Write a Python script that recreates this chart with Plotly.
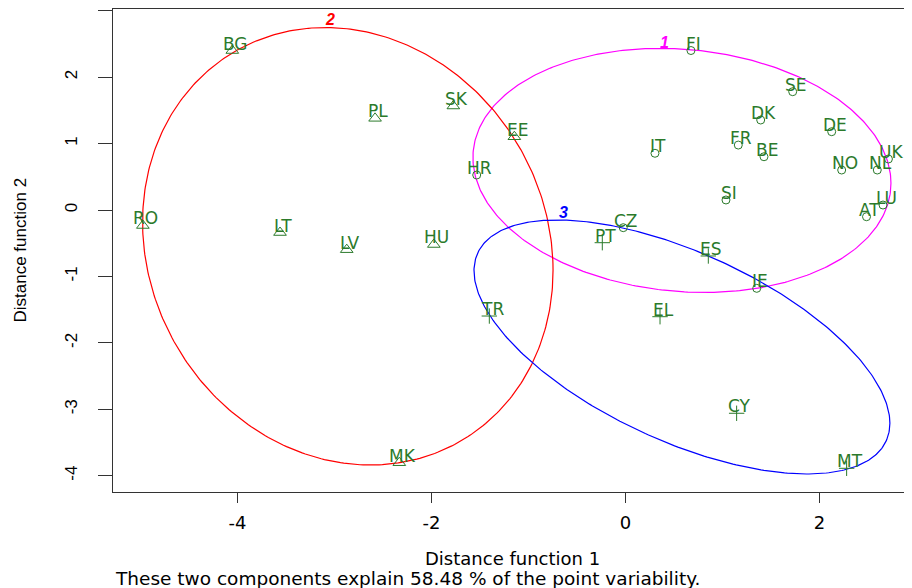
import numpy as np
import plotly.graph_objects as go

# cluster 1 (circles)
c1_names = ["FI", "SE", "DK", "DE", "FR", "BE", "IT", "NO", "NL", "UK", "LU", "AT", "SI", "HR", "CZ", "IE"]
c1_x = [0.675, 1.724, 1.394, 2.126, 1.163, 1.428, 0.304, 2.229, 2.596, 2.711, 2.655, 2.485, 1.036, -1.534, -0.023, 1.353]
c1_y = [2.401, 1.781, 1.355, 1.179, 0.978, 0.802, 0.854, 0.602, 0.602, 0.768, 0.075, -0.101, 0.151, 0.527, -0.266, -1.179]

# cluster 2 (triangles)
c2_names = ["BG", "PL", "SK", "EE", "RO", "LT", "LV", "HU", "MK"]
c2_x = [-4.054, -2.582, -1.775, -1.146, -4.976, -3.562, -2.874, -1.976, -2.332]
c2_y = [2.401, 1.380, 1.566, 1.103, -0.233, -0.339, -0.597, -0.519, -3.804]

# cluster 3 (plus)
c3_names = ["PT", "ES", "TR", "EL", "CY", "MT"]
c3_x = [-0.239, 0.854, -1.404, 0.356, 1.146, 2.280]
c3_y = [-0.492, -0.692, -1.596, -1.606, -3.060, -3.888]

# ellipse parameters per cluster: centre, half-widths, x/y coupling
ell_cx = [0.582, -2.863, 0.582]
ell_cy = [0.596, -0.546, -2.062]
ell_ax = [2.155, 2.116, 2.144]
ell_ay = [1.837, 3.293, 1.912]
ell_coupling = [-0.105, -0.11, -0.60]

cluster_ids = ["1", "2", "3"]
cluster_lab_x = [0.397, -3.046, -0.641]
cluster_lab_y = [2.529, 2.875, -0.041]
cluster_colors = ["#ff00ff", "#ff0000", "#0000ff"]

x_ticks = [-4, -2, 0, 2]
x_tick_text = ["-4", "-2", "0", "2"]
y_ticks = [-4, -3, -2, -1, 0, 1, 2, 3]
y_tick_text = ["-4", "-3", "-2", "-1", "0", "1", "2", "3"]

green = "#2b7a2b"
fig = go.Figure()

t = np.linspace(0, 2 * np.pi, 400)
for i in range(3):
    d = np.arccos(ell_coupling[i])
    fig.add_trace(go.Scatter(x=ell_cx[i] + ell_ax[i] * np.cos(t),
                             y=ell_cy[i] + ell_ay[i] * np.cos(t + d),
                             mode='lines', line=dict(color=cluster_colors[i], width=1.2),
                             hoverinfo='skip', showlegend=False))

groups = [(c1_names, c1_x, c1_y, 'circle-open', 8),
          (c2_names, c2_x, c2_y, 'triangle-up-open', 11),
          (c3_names, c3_x, c3_y, 'cross-thin-open', 11)]
for names, xs, ys, sym, sz in groups:
    fig.add_trace(go.Scatter(x=xs, y=ys, mode='markers', text=names, showlegend=False,
                             marker=dict(symbol=sym, size=sz, color=green, line=dict(color=green, width=1))))
    for n, x, y in zip(names, xs, ys):
        fig.add_annotation(x=x, y=y, text=n, showarrow=False, xshift=3, yshift=7,
                           font=dict(family="DejaVu Sans", size=17, color=green))

for cid, x, y, col in zip(cluster_ids, cluster_lab_x, cluster_lab_y, cluster_colors):
    fig.add_annotation(x=x, y=y, text=cid, showarrow=False,
                       font=dict(family="Liberation Sans", size=16, color=col, weight='bold', style='italic'))

fig.add_annotation(xref='paper', yref='paper', x=0.5, y=0, yshift=-66, yanchor='middle',
                   text="Distance function 1",
                   showarrow=False, font=dict(family="DejaVu Sans", size=18, color="black"))
fig.add_annotation(xref='paper', yref='paper', x=0, y=0.5, xshift=-93, xanchor='center', yanchor='middle',
                   text="Distance function 2", textangle=-90, showarrow=False,
                   font=dict(family="Liberation Sans", size=17, color="black"))
fig.add_annotation(xref='paper', yref='paper', x=0, y=0, yshift=-86, xanchor='left', yanchor='middle',
                   text="These two components explain 58.48 % of the point variability.",
                   showarrow=False, font=dict(family="DejaVu Sans", size=18.5, color="black"))

fig.update_xaxes(range=[-5.284, 2.954], tickvals=x_ticks, ticktext=x_tick_text, ticks='outside', ticklen=10,
                 tickcolor='#333', showline=True, linecolor='#333', linewidth=1.3, mirror=True,
                 ticklabelstandoff=4, showgrid=False, zeroline=False, automargin=False,
                 tickfont=dict(family="DejaVu Sans", size=18, color="black"))
fig.update_yaxes(range=[-4.245, 3.026], tickvals=y_ticks, ticktext=y_tick_text, ticks='outside', ticklen=14,
                 tickcolor='#333', showline=True, linecolor='#333', linewidth=1.3, tickangle=-90,
                 ticklabelstandoff=14, showgrid=False, zeroline=False, automargin=False,
                 tickfont=dict(family="Liberation Sans", size=17, color="black"))

# page body adds an 8px margin, so the figure is 8px smaller than the window
fig.update_layout(width=904, height=580, margin=dict(l=105, r=0, t=1, b=96),
                  plot_bgcolor='white', paper_bgcolor='white')

fig.write_html("out.html")
